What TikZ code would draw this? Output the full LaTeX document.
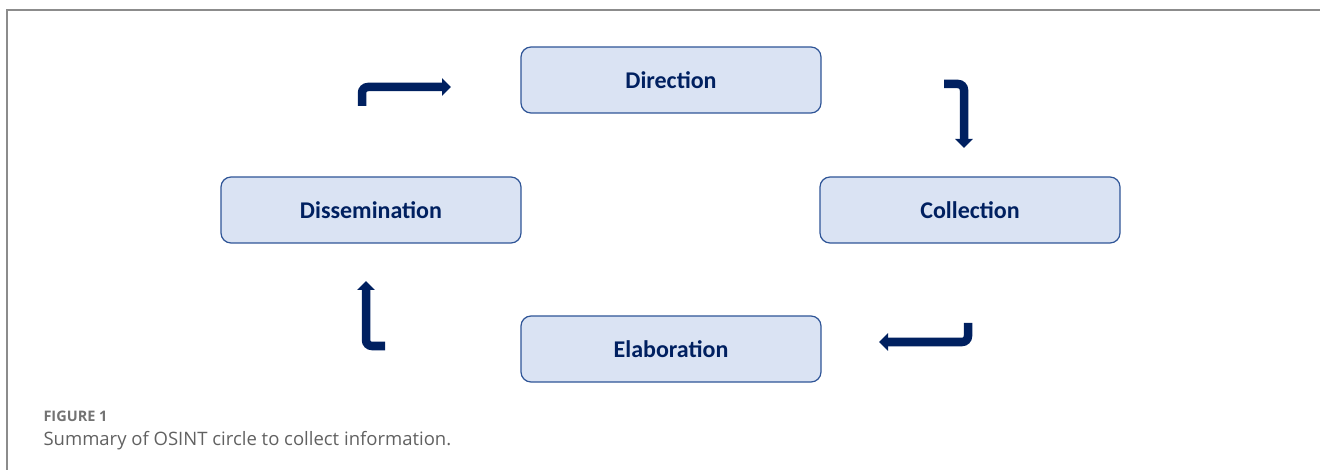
\documentclass[tikz,border=0pt]{standalone}
\usepackage{fontspec}
\setmainfont{Carlito}
\newfontfamily\capfont{Open Sans}
\usepackage{tikz}
\usetikzlibrary{arrows.meta,positioning}

\definecolor{navy}{HTML}{002060}
\definecolor{boxfill}{HTML}{DAE3F3}
\definecolor{boxline}{HTML}{2F5597}
\definecolor{framegray}{HTML}{8C8C8C}

\begin{document}
\begin{tikzpicture}[x=1pt,y=-1pt,node distance=2cm,
    phase/.style={draw=boxline,line width=1.2pt,fill=boxfill,rounded corners=10pt,
      minimum width=300pt,minimum height=66pt,text=navy,font=\fontsize{24}{28}\selectfont\bfseries},
    bent/.style={draw=navy,line width=8.5pt,rounded corners=6pt,-{Triangle[length=9pt,width=17pt]}}]
        \useasboundingbox (0,0) rectangle (1320,470);
        \draw[framegray,line width=2pt] (7,470) -- (7,10) -- (1320,10);

        	\node[phase]  (dir)  at (671,80)           {Direction};
  			\node[phase]   (col) [on grid,below right=130pt and 299pt of dir]  {Collection};
           \node[phase]   (dis) [on grid,below left=130pt and 300pt of dir]  {Dissemination};
           \node[phase]   (ela) [on grid,below=269pt of dir]  {Elaboration};

           \coordinate (a1s) at (362,106);
           \coordinate (a1e) at (451,87);
           \coordinate (a2s) at (944,84);
           \coordinate (a2e) at (964,148);
           \coordinate (a3s) at (968,323);
           \coordinate (a3e) at (879,342);
           \coordinate (a4s) at (385,346);
           \coordinate (a4e) at (366,281);

  			\path[bent] (a1s) |- (a1e);
  			\path[bent] (a2s) -| (a2e);
  			\path[bent] (a3s) |- (a3e);
  			\path[bent] (a4s) -| (a4e);

            \node[anchor=base west,text=black!55,font=\capfont\bfseries\fontsize{14.5}{16}\selectfont] (fig) at (40,421) {FIGURE 1};
            \node[anchor=base west,text=black!62,font=\capfont\fontsize{18.5}{22}\selectfont] (cap) at (40,445) {Summary of OSINT circle to collect information.};
             \end{tikzpicture}
\end{document}
